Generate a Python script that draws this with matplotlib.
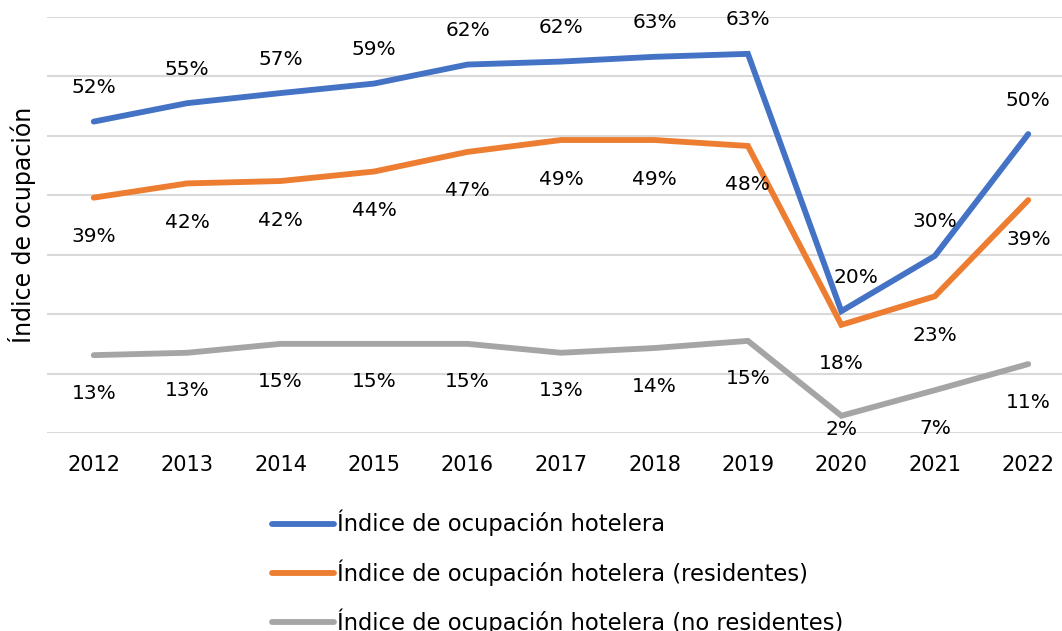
import matplotlib.pyplot as plt

plt.rcParams['font.family'] = ['DejaVu Sans']

years = ["2012", "2013", "2014", "2015", "2016", "2017", "2018", "2019", "2020", "2021", "2022"]

total = [52.4, 55.5, 57.2, 58.8, 62.0, 62.5, 63.3, 63.8, 20.5, 29.8, 50.3]
total_lbl = ["52%", "55%", "57%", "59%", "62%", "62%", "63%", "63%", "20%", "30%", "50%"]

resid = [39.6, 42.0, 42.4, 44.0, 47.3, 49.3, 49.3, 48.3, 18.2, 23.0, 39.2]
resid_lbl = ["39%", "42%", "42%", "44%", "47%", "49%", "49%", "48%", "18%", "23%", "39%"]

noresid = [13.1, 13.5, 15.0, 15.0, 15.0, 13.5, 14.3, 15.5, 2.9, 7.2, 11.6]
noresid_lbl = ["13%", "13%", "15%", "15%", "15%", "13%", "14%", "15%", "2%", "7%", "11%"]

blue = "#4472C4"
orange = "#ED7D31"
gray = "#A5A5A5"

fig = plt.figure(figsize=(10.62, 6.31), dpi=100)
W, H = 1062, 631
# plot area: x from 47px to 1075px (cut at the right), y from 17px to 433px
ax = fig.add_axes([47 / W, (H - 433) / H, (1075 - 47) / W, (433 - 17) / H])

x = range(len(years))
lw = 4.2
ax.plot(x, total, color=blue, lw=lw, solid_capstyle="round", solid_joinstyle="miter")
ax.plot(x, resid, color=orange, lw=lw, solid_capstyle="round", solid_joinstyle="miter")
ax.plot(x, noresid, color=gray, lw=lw, solid_capstyle="round", solid_joinstyle="miter")

fs = 14.5

ax.set_xlim(-0.5, 10.5)
ax.set_ylim(0, 70)
ax.set_yticks(range(0, 71, 10))
ax.set_yticklabels([])
ax.grid(axis="y", color="#D9D9D9", lw=1.5)
ax.set_axisbelow(True)
ax.tick_params(length=0, labelsize=15, pad=16)
ax.set_xticks(list(x))
ax.set_xticklabels(years)
for s in ax.spines.values():
    s.set_visible(False)

px = 0.72  # points per pixel
for i in x:
    dx = 15 if i == 8 else 0
    ax.annotate(total_lbl[i], (i, total[i]), xytext=(dx * px, 34 * px),
                textcoords="offset points", ha="center", va="center", fontsize=fs)
    ax.annotate(resid_lbl[i], (i, resid[i]), xytext=(0, -39 * px),
                textcoords="offset points", ha="center", va="center", fontsize=fs)
    dy = -14 if i == 8 else -38
    ax.annotate(noresid_lbl[i], (i, noresid[i]), xytext=(0, dy * px),
                textcoords="offset points", ha="center", va="center", fontsize=fs)

fig.text(22 / W, 1 - 225 / H, "Índice de ocupación", rotation=90,
         ha="center", va="center", fontsize=17)

handles = ax.get_lines()
fig.legend(handles, ["Índice de ocupación hotelera",
                     "Índice de ocupación hotelera (residentes)",
                     "Índice de ocupación hotelera (no residentes)"],
           loc="upper left", bbox_to_anchor=(272 / W, 1 - 510 / H),
           frameon=False, fontsize=16.3, handlelength=2.75, handletextpad=0.1,
           labelspacing=1.0, borderpad=0, borderaxespad=0)

fig.savefig("out.png", dpi=100)
